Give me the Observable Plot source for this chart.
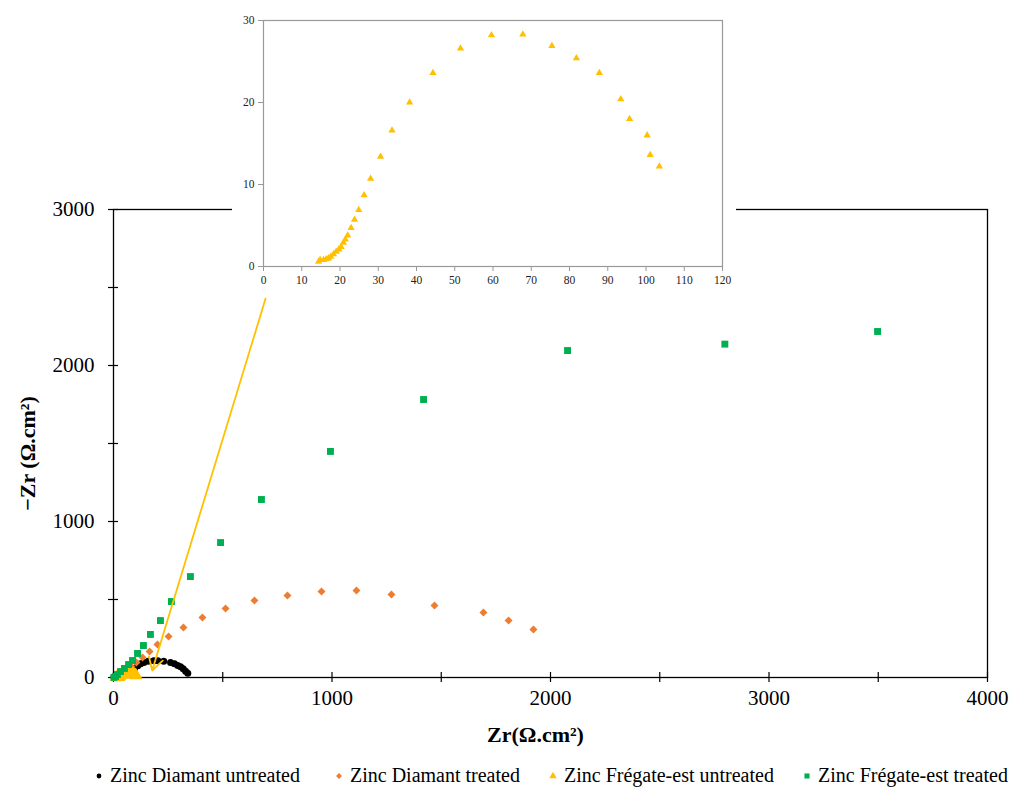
<!DOCTYPE html>
<html>
<head>
<meta charset="utf-8">
<script src="https://cdn.jsdelivr.net/npm/d3@7"></script>
<script src="https://cdn.jsdelivr.net/npm/@observablehq/plot@0.6"></script>
<style>
  html, body { margin: 0; padding: 0; background: #fff; }
  #wrap { position: relative; width: 1015px; height: 787px; font-family: "Liberation Serif", "Times New Roman", serif; }
  #main { position: absolute; left: 0; top: 0; }
  #inset { position: absolute; left: 232px; top: 0; }
  #legend { position: absolute; left: 0; top: 764px; width: 1015px; height: 24px; font-size: 20px; color: #000; white-space: nowrap; }
  #legend .item { position: absolute; top: 0; display: flex; align-items: center; }
  #legend svg { margin-right: 6px; }
</style>
</head>
<body>
<div id="wrap">
  <div id="main"></div>
  <div id="inset"></div>
  <div id="legend"></div>
</div>
<script>
// ---- Data ----
const seriesNames = ["Zinc Diamant untreated", "Zinc Diamant treated", "Zinc Frégate-est untreated", "Zinc Frégate-est treated"];
const seriesColors = ["#000000", "#ED7D31", "#FFC000", "#00B050"];
const seriesSymbols = ["circle", "diamond2", "triangle", "square"];

// Zr (Ω.cm²), -Zi (Ω.cm²)
const diamantUntreatedX = [2, 32, 55, 78, 96, 111, 124, 139, 159, 184, 203, 230, 261, 279, 294, 307, 319, 330, 340];
const diamantUntreatedY = [1, 6, 19, 38, 58, 75, 88, 96, 104, 107, 107, 104, 96, 88, 77, 69, 56, 40, 28];

const diamantTreatedX = [5, 18, 37, 59, 82, 105, 133, 165, 201, 252, 320, 407, 513, 645, 796, 952, 1112, 1272, 1469, 1693, 1808, 1922];
const diamantTreatedY = [2, 13, 26, 45, 71, 96, 128, 167, 212, 263, 321, 385, 442, 494, 526, 551, 558, 532, 462, 417, 365, 308];

const fregateUntreatedX = [14.4, 14.8, 15.7, 16.4, 17.0, 17.6, 18.3, 19.0, 19.7, 20.3, 20.9, 21.4, 22.0, 22.9, 23.8, 24.9, 26.3, 28.0, 30.6, 33.6, 38.2, 44.3, 51.5, 59.6, 67.8, 75.4, 81.8, 87.8, 93.4, 95.7, 100.3, 101.1, 103.5];
const fregateUntreatedY = [0.6, 0.8, 0.8, 0.9, 1.0, 1.2, 1.5, 1.8, 2.1, 2.4, 2.9, 3.3, 3.8, 4.7, 5.7, 6.9, 8.7, 10.7, 13.4, 16.6, 20.0, 23.6, 26.6, 28.2, 28.3, 26.9, 25.4, 23.6, 20.4, 18.0, 16.0, 13.6, 12.2];

const fregateTreatedX = [2, 9, 18, 32, 50, 69, 87, 110, 137, 169, 215, 265, 352, 490, 677, 993, 1419, 2078, 2798, 3497];
const fregateTreatedY = [1, 6, 19, 38, 58, 83, 109, 154, 205, 276, 365, 487, 647, 865, 1141, 1449, 1782, 2096, 2137, 2218];

const mainXTicks = [0, 500, 1000, 1500, 2000, 2500, 3000, 3500, 4000];
const mainYTicks = [0, 500, 1000, 1500, 2000, 2500, 3000];
const insetXTicks = [0, 10, 20, 30, 40, 50, 60, 70, 80, 90, 100, 110, 120];
const insetYTicks = [0, 10, 20, 30];

const xLabel = "Zr(Ω.cm²)";
const yLabel = "−Zr (Ω.cm²)";

// Annotation arrow from the inset to the zoomed region (data coordinates)
const arrowFrom = [696, 2429];
const arrowTo = [177, 45];

// ---- Build tables ----
const zip = (xs, ys, s) => xs.map((x, i) => ({x, y: ys[i], s}));
const rows = [
  ...zip(diamantUntreatedX, diamantUntreatedY, 0),
  ...zip(diamantTreatedX, diamantTreatedY, 1),
  ...zip(fregateUntreatedX, fregateUntreatedY, 2),
  ...zip(fregateTreatedX, fregateTreatedY, 3)
];
const insetRows = zip(fregateUntreatedX, fregateUntreatedY, 2);
const sizes = [3.5, 3.6, 4.8, 3.9];

const mainDots = [0, 1, 2, 3].map(k => Plot.dot(rows.filter(d => d.s === k), {
  x: "x", y: "y", symbol: () => seriesSymbols[k], r: sizes[k], fill: seriesColors[k], stroke: "none"
}));

const main = Plot.plot({
  width: 1015,
  height: 760,
  marginLeft: 113,
  marginRight: 28,
  marginTop: 209,
  marginBottom: 83,
  x: {domain: [0, 4000]},
  y: {domain: [0, 3000]},
  style: {fontFamily: "'Liberation Serif', 'Times New Roman', serif", fontSize: "21px", color: "#000", background: "transparent", overflow: "visible"},
  marks: [
    Plot.frame({stroke: "#000", strokeWidth: 1.3}),
    Plot.axisX({ticks: mainXTicks, tickSize: 5, tickPadding: 8, tickFormat: d => d % 1000 === 0 ? String(d) : "", label: null, strokeWidth: 1.2}),
    Plot.axisX({ticks: mainXTicks, tickSize: 5, dy: -5, tickFormat: () => "", label: null, strokeWidth: 1.2}),
    Plot.axisY({ticks: mainYTicks, tickSize: 5, tickPadding: 14, tickFormat: d => d % 1000 === 0 ? String(d) : "", label: null, strokeWidth: 1.2}),
    Plot.axisY({ticks: mainYTicks, tickSize: 5, dx: 5, tickFormat: () => "", label: null, strokeWidth: 1.2}),
    ...mainDots,
    Plot.arrow([{x1: arrowFrom[0], y1: arrowFrom[1], x2: arrowTo[0], y2: arrowTo[1]}], {
      x1: "x1", y1: "y1", x2: "x2", y2: "y2", stroke: "#FFC000", strokeWidth: 1.8, headLength: 12, bend: 0
    }),
    Plot.text([xLabel], {frameAnchor: "bottom", dx: -15, dy: 64, fontWeight: "bold", fontSize: 22, text: d => d}),
    Plot.text([yLabel], {frameAnchor: "left", textAnchor: "middle", rotate: -90, dx: -86, dy: 10, fontWeight: "bold", fontSize: 22, text: d => d})
  ]
});
document.getElementById("main").appendChild(main);

const inset = Plot.plot({
  width: 504,
  height: 292,
  marginLeft: 31,
  marginRight: 14,
  marginTop: 20,
  marginBottom: 26,
  x: {domain: [0, 120]},
  y: {domain: [0, 30]},
  style: {fontFamily: "'Liberation Serif', 'Times New Roman', serif", fontSize: "11.5px", color: "#222", background: "#fff"},
  marks: [
    Plot.frame({stroke: "#999", strokeWidth: 1.2}),
    Plot.axisX({ticks: insetXTicks, tickSize: 5, tickPadding: 4, label: null, stroke: "#999"}),
    Plot.axisY({ticks: insetYTicks, tickSize: 5, tickPadding: 4, label: null, stroke: "#999"}),
    Plot.dot(insetRows, {x: "x", y: "y", symbol: "triangle", r: 2.7, fill: seriesColors[2], stroke: "none"})
  ]
});
document.getElementById("inset").appendChild(inset);

// Legend
const legend = d3.select("#legend");
const symMap = {circle: d3.symbolCircle, diamond2: d3.symbolDiamond2, triangle: d3.symbolTriangle, square: d3.symbolSquare};
const legSizes = [18, 22, 24, 26];
const legLeft = [94, 334, 548, 802];
seriesNames.forEach((name, i) => {
  const item = legend.append("div").attr("class", "item").style("left", legLeft[i] + "px");
  const svg = item.append("svg").attr("width", 10).attr("height", 10);
  svg.append("path")
    .attr("transform", "translate(5,5)")
    .attr("d", d3.symbol(symMap[seriesSymbols[i]], legSizes[i])())
    .attr("fill", seriesColors[i]);
  item.append("span").text(name);
});
</script>
</body>
</html>
